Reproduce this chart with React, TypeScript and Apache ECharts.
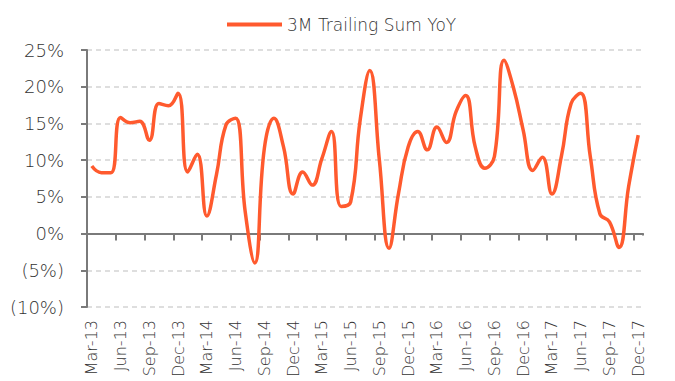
import React, { useEffect, useRef } from "react";
import * as echarts from "echarts";

const months = [
  "Mar-13", "Apr-13", "May-13", "Jun-13", "Jul-13", "Aug-13", "Sep-13", "Oct-13", "Nov-13", "Dec-13",
  "Jan-14", "Feb-14", "Mar-14", "Apr-14", "May-14", "Jun-14", "Jul-14", "Aug-14", "Sep-14", "Oct-14", "Nov-14", "Dec-14",
  "Jan-15", "Feb-15", "Mar-15", "Apr-15", "May-15", "Jun-15", "Jul-15", "Aug-15", "Sep-15", "Oct-15", "Nov-15", "Dec-15",
  "Jan-16", "Feb-16", "Mar-16", "Apr-16", "May-16", "Jun-16", "Jul-16", "Aug-16", "Sep-16", "Oct-16", "Nov-16", "Dec-16",
  "Jan-17", "Feb-17", "Mar-17", "Apr-17", "May-17", "Jun-17", "Jul-17", "Aug-17", "Sep-17", "Oct-17", "Nov-17", "Dec-17",
];

// 3-month trailing sum, year-over-year change (%)
const trailingSumYoY = [
  9.2, 8.3, 8.3, 15.8, 15.1, 15.3, 12.7, 17.7, 17.4, 19.1,
  8.4, 10.8, 2.4, 8.0, 14.8, 15.7, 3.0, -4.0, 11.6, 15.7, 11.8, 5.4,
  8.4, 6.6, 10.2, 13.9, 3.7, 4.3, 15.5, 22.2, 10.0, -2.0, 5.5, 11.8,
  13.9, 11.4, 14.5, 12.4, 16.6, 18.8, 11.8, 8.9, 10.5, 23.6, 19.8, 14.1,
  8.6, 10.4, 5.4, 10.6, 17.7, 19.1, 10.5, 2.7, 1.6, -1.9, 6.4, 13.4,
];

const seriesName = "3M Trailing Sum YoY";

const FONT = "'DejaVu Sans', Lato, sans-serif";
const AXIS_GRAY = "#7a7a7a";
const TEXT = "#333333";
const LINE_COLOR = "#ff5a2e";

export default function App() {
  const ref = useRef<HTMLDivElement>(null);

  useEffect(() => {
    if (!ref.current) return;
    const chart = echarts.init(ref.current, undefined, { renderer: "svg" });
    chart.setOption({
      animation: false,
      backgroundColor: "#ffffff",
      textStyle: { fontFamily: FONT },
      legend: {
        top: 11,
        left: 222,
        itemWidth: 55,
        itemHeight: 4,
        itemGap: 6,
        data: [{ name: seriesName, icon: "rect" }],
        textStyle: { fontSize: 17, fontWeight: 200, color: TEXT, fontFamily: FONT },
      },
      grid: {
        left: 87,
        right: 32,
        top: 50,
        bottom: 74,
        containLabel: false,
        outerBoundsMode: "none",
      },
      xAxis: [
        {
          type: "category",
          data: months,
          boundaryGap: true,
          axisLine: { show: true, onZero: true, lineStyle: { color: AXIS_GRAY, width: 2 } },
          axisTick: { show: true, interval: 2, length: 7, lineStyle: { color: AXIS_GRAY, width: 2 } },
          axisLabel: { show: false },
          splitLine: { show: false },
        },
        {
          type: "category",
          data: months,
          position: "bottom",
          boundaryGap: true,
          axisLine: { show: false, onZero: false },
          axisTick: { show: false },
          axisLabel: {
            show: true,
            interval: 2,
            rotate: 90,
            margin: 13,
            fontSize: 16,
            fontWeight: 200,
            color: TEXT,
            fontFamily: FONT,
          },
          splitLine: { show: false },
        },
      ],
      yAxis: {
        type: "value",
        min: -10,
        max: 25,
        interval: 5,
        axisLine: { show: true, lineStyle: { color: AXIS_GRAY, width: 2 } },
        axisTick: { show: true, length: 6, lineStyle: { color: AXIS_GRAY, width: 2 } },
        axisLabel: {
          margin: 23,
          fontSize: 18,
          fontWeight: 200,
          color: TEXT,
          fontFamily: FONT,
          formatter: (v: number) => (v < 0 ? `(${-v}%)` : `${v}%`),
        },
        splitLine: {
          show: true,
          lineStyle: { color: "#d4d4d4", type: [5, 4], width: 1.5 },
        },
      },
      // the band axis always closes with a tick at its far end; mask it
      graphic: [
        {
          type: "rect",
          right: 29,
          top: 235.5,
          shape: { width: 7, height: 9 },
          style: { fill: "#ffffff" },
          z: 100,
        },
      ],
      series: [
        {
          name: seriesName,
          type: "line",
          xAxisIndex: 0,
          data: trailingSumYoY,
          smooth: 0.45,
          symbol: "none",
          lineStyle: { color: LINE_COLOR, width: 3.5 },
          itemStyle: { color: LINE_COLOR },
        },
      ],
    });
    return () => chart.dispose();
  }, []);

  return (
    <div
      ref={ref}
      style={{ position: "absolute", left: 0, top: 0, width: 675, height: 381 }}
    />
  );
}
